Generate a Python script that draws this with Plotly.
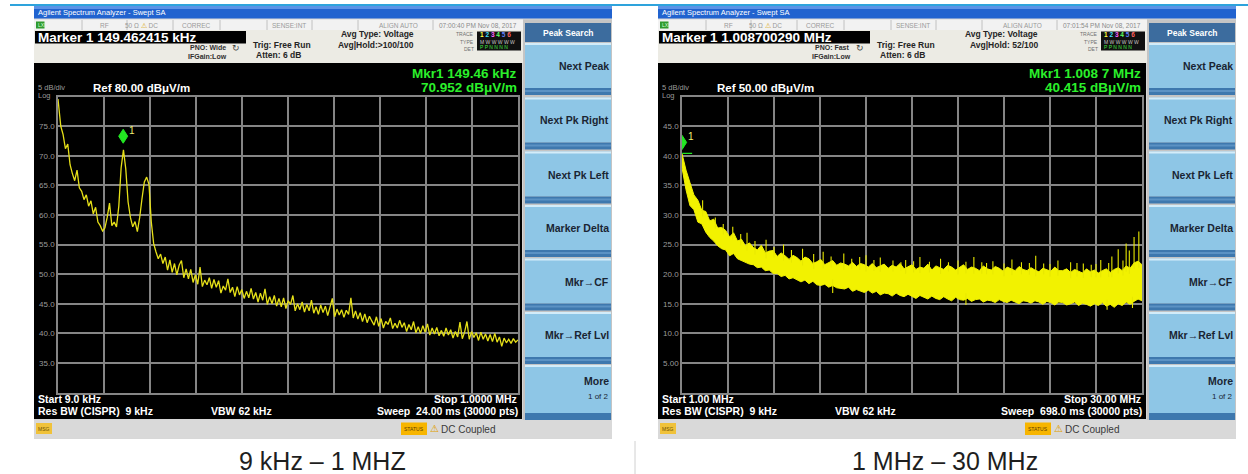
import plotly.graph_objects as go
import numpy as np

W, H = 1248, 474
UI = "Liberation Sans"

# ---------------- data: left sweep (9 kHz - 1 MHz) ----------------
lf_freq_khz = [9] + list(range(15, 1001, 5))
lf_level_dbuv = [
    79.6, 75.0, 73.6, 71.2, 72.0, 68.5, 67.0, 65.8, 67.6, 64.6,
    64.0, 62.6, 63.4, 61.5, 62.4, 60.2, 61.3, 58.8, 58.2, 57.3,
    57.8, 59.6, 62.0, 58.2, 58.8, 58.0, 61.5, 68.0, 71.0, 67.8,
    62.2, 59.6, 58.0, 58.9, 57.2, 59.6, 62.8, 65.6, 66.4, 65.2,
    58.8, 55.2, 53.8, 52.6, 53.4, 51.8,
    52.9, 50.7, 52.4, 50.3, 51.8, 49.9, 51.5, 52.3, 49.4, 50.9,
    49.2, 50.8, 48.6, 49.9, 48.3, 51.2, 47.9, 49.0, 48.2, 49.4,
    47.6, 49.1, 47.8, 48.9, 46.8, 48.0, 47.3, 49.2, 46.9, 47.8,
    46.2, 47.9, 46.5, 47.4, 45.9, 47.1, 46.0, 47.6, 45.8, 46.9,
    45.3, 46.8, 45.6, 47.5, 44.9, 46.2, 45.0, 46.4, 44.6, 45.9,
    44.5, 46.0, 44.2, 45.5, 44.9, 46.4, 43.8, 45.0, 44.0, 45.3,
    43.6, 44.9, 43.8, 45.6, 43.4, 44.5, 43.2, 44.8, 43.5, 44.6,
    43.0, 44.4, 45.9, 42.8, 44.1, 43.1, 44.0, 42.7, 43.9, 43.2,
    46.0, 42.6, 43.8, 42.4, 43.5, 42.0, 43.3, 41.8, 42.9, 42.1,
    41.4, 42.8, 41.2, 42.5, 40.9, 42.0, 41.5, 42.6, 40.8, 41.7,
    40.9, 42.2, 41.0, 41.8, 40.3, 41.5, 40.6, 42.0, 40.1, 41.1,
    40.0, 41.3, 40.2, 41.6, 39.7, 40.9, 39.9, 41.0, 39.6, 40.5,
    39.5, 40.9, 39.7, 40.6, 39.2, 40.3, 39.4, 41.9, 39.1, 40.2,
    42.0, 39.0, 40.3, 39.3, 40.1, 38.8, 40.2, 39.0, 39.9, 38.7,
    39.8, 38.6, 40.0, 38.5, 39.4, 37.8, 39.2, 38.4, 39.0, 38.3,
    39.1, 38.5, 38.9,
]
lf_marker = (149.462415, 70.952)
lf_start_khz, lf_stop_khz = 9.0, 1000.0
lf_ref_db = 80.0
lf_ytick_vals = [35, 40, 45, 50, 55, 60, 65, 70, 75]
lf_ytick_text = ["35.0", "40.0", "45.0", "50.0", "55.0", "60.0", "65.0", "70.0", "75.0"]

# ---------------- data: right sweep (1 MHz - 30 MHz) ----------------
rf_freq_mhz = [1 + 0.25 * i for i in range(117)]
rf_upper_dbuv = [
    40.4, 37.6, 35.5, 33.4, 32.5, 30.8, 30.6, 29.0,
    29.3, 27.8, 27.9, 27.4, 26.3, 27.0, 25.6, 25.9,
    24.8, 25.3, 24.5, 24.1, 24.9, 23.6, 23.9, 24.0,
    23.0, 23.6, 23.1, 22.5, 23.2, 22.8, 22.2, 22.9,
    22.6, 21.8, 22.1, 22.5, 21.6, 21.9, 22.3, 21.5,
    21.9, 21.7, 21.4, 22.0, 21.3, 21.8, 21.6, 21.2,
    21.8, 21.1, 21.4, 21.7, 21.0, 21.5, 21.2, 21.8,
    20.9, 21.3, 21.6, 20.8, 21.2, 21.0, 21.7, 20.7,
    21.4, 21.1, 20.8, 21.5, 21.2, 20.7, 21.1, 21.6,
    20.8, 21.2, 21.0, 20.6, 21.4, 20.9, 20.7, 21.3,
    21.0, 20.5, 21.2, 20.9, 20.6, 21.3, 20.8, 20.6,
    21.1, 20.7, 20.4, 21.0, 20.8, 20.5, 21.2, 20.6,
    20.6, 20.9, 20.3, 20.8, 20.5, 20.2, 20.9, 20.4,
    20.7, 20.2, 20.6, 20.9, 20.3, 20.8, 21.1, 20.6,
    21.4, 21.0, 21.9, 22.2, 21.6,
]
rf_lower_dbuv = [
    38.0, 34.3, 31.6, 30.9, 28.8, 28.5, 27.1, 26.2,
    25.6, 24.8, 24.3, 24.1, 23.1, 23.5, 22.6, 22.3,
    22.1, 21.7, 21.6, 21.1, 21.2, 20.6, 20.7, 20.1,
    20.1, 19.6, 19.8, 19.2, 19.4, 19.1, 18.7, 19.0,
    18.4, 18.8, 18.2, 18.1, 18.3, 17.8, 18.1, 17.7,
    17.6, 17.5, 17.8, 17.1, 17.4, 17.2, 16.9, 17.3,
    16.8, 17.1, 16.5, 16.8, 16.7, 16.3, 16.8, 16.4,
    16.2, 16.6, 16.3, 15.9, 16.4, 16.1, 15.8, 16.3,
    15.9, 15.7, 16.2, 15.8, 15.5, 16.1, 15.7, 15.6,
    15.9, 15.4, 15.7, 15.8, 15.3, 15.6, 15.5, 15.2,
    15.7, 15.4, 15.2, 15.6, 15.3, 15.0, 15.5, 15.4,
    15.1, 15.5, 15.3, 14.9, 15.4, 15.2, 14.8, 15.3,
    15.2, 14.8, 15.0, 15.3, 14.7, 15.1, 14.9, 14.6,
    15.0, 14.7, 15.2, 14.6, 14.9, 14.4, 15.0, 14.7,
    15.3, 14.9, 15.4, 15.8, 15.5,
]
rf_spike_mhz = [2.3, 3.1, 3.6, 4.2, 4.7, 5.1, 5.6, 6.3, 6.8, 7.4, 7.9, 8.6, 9.3, 9.9,
                10.4, 11.2, 11.7, 12.2, 12.6, 13.1, 13.5, 14.3, 14.8, 15.1, 15.6, 16.0,
                16.6, 17.3, 17.8, 18.4, 18.9, 19.4, 19.9, 20.2, 20.6, 21.3, 21.8, 22.4,
                22.9, 23.3, 23.8, 24.2, 24.7, 25.5, 25.9, 26.3, 26.8, 27.1, 27.4, 27.9,
                28.1, 28.5, 28.8, 29.0, 29.2, 29.5, 29.8]
rf_spike_dbuv = [32.5, 29.6, 28.5, 28.0, 26.8, 27.0, 25.6, 25.8, 24.6, 25.0, 24.1, 24.3,
                 23.4, 23.8, 23.0, 23.5, 22.6, 22.9, 23.2, 22.4, 22.8, 22.3, 22.0, 22.4,
                 22.2, 22.9, 22.1, 22.6, 22.0, 22.3, 22.1, 22.9, 22.0, 21.9, 22.2, 21.8,
                 22.5, 22.0, 21.9, 23.1, 21.8, 21.7, 22.3, 22.0, 21.9, 21.8, 21.6, 21.7,
                 22.4, 21.9, 23.0, 24.2, 22.3, 25.2, 24.0, 26.3, 27.2]
rf_dip_mhz = [10.5, 18.9, 27.8, 29.4]
rf_dip_dbuv = [16.8, 14.8, 14.0, 14.3]
rf_marker = (1.008700290, 40.415)
rf_start_mhz, rf_stop_mhz = 1.0, 30.0
rf_ref_db = 50.0
rf_ytick_vals = [5, 10, 15, 20, 25, 30, 35, 40, 45]
rf_ytick_text = ["5.00", "10.0", "15.0", "20.0", "25.0", "30.0", "35.0", "40.0", "45.0"]

softkeys = ["Next Peak", "Next Pk Right", "Next Pk Left", "Marker Delta",
            "Mkr\u2192CF", "Mkr\u2192Ref Lvl"]

panels = [
    dict(dx=0, marker="Marker 1 149.462415 kHz", pno="PNO: Wide", hold="Avg|Hold:>100/100",
         time="07:00:40 PM Nov 08, 2017", mkr1="Mkr1 149.46 kHz", mkr2="70.952 dB\u03bcV/m",
         ref="Ref 80.00 dB\u03bcV/m", start="Start 9.0 kHz", stop="Stop 1.0000 MHz",
         sweep="Sweep  24.00 ms (30000 pts)", caption="9 kHz \u2013 1 MHZ", cap_x=322),
    dict(dx=624, marker="Marker 1 1.008700290 MHz", pno="PNO: Fast", hold="Avg|Hold: 52/100",
         time="07:01:54 PM Nov 08, 2017", mkr1="Mkr1 1.008 7 MHz", mkr2="40.415 dB\u03bcV/m",
         ref="Ref 50.00 dB\u03bcV/m", start="Start 1.00 MHz", stop="Stop 30.00 MHz",
         sweep="Sweep  698.0 ms (30000 pts)", caption="1 MHz \u2013 30 MHz", cap_x=945),
]

# ---------------- helpers ----------------
shapes, annos = [], []


def R(x0, y0, x1, y1, fill, lc=None, lw=0, layer="below"):
    shapes.append(dict(type="rect", xref="paper", yref="paper",
                       x0=x0 / W, x1=x1 / W, y0=1 - y1 / H, y1=1 - y0 / H,
                       fillcolor=fill, line=dict(width=lw, color=lc or fill), layer=layer))


def L(x0, y0, x1, y1, color, lw=1, layer="below"):
    shapes.append(dict(type="line", xref="paper", yref="paper",
                       x0=x0 / W, x1=x1 / W, y0=1 - y0 / H, y1=1 - y1 / H,
                       line=dict(width=lw, color=color), layer=layer))


def T(x, y, s, size, color, anchor="left", bold=False, family=UI):
    annos.append(dict(xref="paper", yref="paper", x=x / W, y=1 - y / H,
                      text=("<b>%s</b>" % s) if bold else s, showarrow=False,
                      xanchor=anchor, yanchor="middle", borderpad=0,
                      font=dict(size=size, color=color, family=family)))


# slide decoration
L(10, 5, 1248, 5, "#2ea3dc", 2)
L(635, 441, 635, 474, "#d0d0d0", 1)

for p in panels:
    d = p["dx"]
    # frame
    R(34 + d, 6, 612 + d, 439, "#d6d6d6")
    # title bar
    R(34 + d, 6, 612 + d, 18.5, "#2163cf")
    R(34 + d, 6, 612 + d, 9, "#5b92e6")
    T(37 + d, 12.5, "Agilent Spectrum Analyzer - Swept SA", 7.5, "#ffffff")
    # status row
    R(34 + d, 19.5, 523 + d, 30, "#f2f2f2")
    for sx in [82, 127, 173, 220, 267, 312, 358, 433]:
        L(sx + d, 20, sx + d, 30, "#b5b5b5", 0.8)
    R(36 + d, 21.5, 44.5 + d, 28.5, "#2f9a2f")
    T(37 + d, 25, "LXI", 5, "#d8ffd8")
    T(104 + d, 25, "RF", 6.5, "#9a9a9a", "center")
    T(141 + d, 25, "50 \u03a9 <span style='color:#d8a000'>\u26a0</span> DC", 6.5, "#9a9a9a", "center")
    T(196 + d, 25, "CORREC", 6.5, "#9a9a9a", "center")
    T(289 + d, 25, "SENSE:INT", 6.5, "#9a9a9a", "center")
    T(398 + d, 25, "ALIGN AUTO", 6.5, "#9a9a9a", "center")
    T(478 + d, 25, p["time"], 6.5, "#8a8a8a", "center")
    # info area
    R(34 + d, 30, 523 + d, 63, "#ecebe4")
    R(35 + d, 31, 246 + d, 43.5, "#000000")
    T(37 + d, 37.5, p["marker"], 13.5, "#ffffff", bold=True)
    T(227 + d, 47.5, p["pno"], 7, "#303030", "right", bold=True)
    T(228 + d, 56.5, "IFGain:Low", 7, "#303030", "right", bold=True)
    T(236 + d, 48, "\u21bb", 9, "#404040", "center")
    T(252 + d, 44.5, "Trig: Free Run", 8.5, "#252525", bold=True)
    T(255 + d, 55.5, "Atten: 6 dB", 8.5, "#252525", bold=True)
    T(415 + d, 34.5, "Avg Type: Voltage", 8.5, "#252525", "right", bold=True)
    T(415 + d, 44.5, p["hold"], 8.5, "#252525", "right", bold=True)
    T(475 + d, 34, "TRACE", 5, "#707070", "right")
    T(475 + d, 42, "TYPE", 5, "#707070", "right")
    T(475 + d, 48.5, "DET", 5, "#707070", "right")
    R(477 + d, 31.5, 521 + d, 50.5, "#101010")
    T(479 + d, 35, "<span style='color:#ffff40'>1</span> <span style='color:#40e0ff'>2</span> "
      "<span style='color:#ff60ff'>3</span> <span style='color:#60ff60'>4</span> "
      "<span style='color:#6080ff'>5</span> <span style='color:#ff6060'>6</span>", 6.5, "#ffffff", bold=True)
    T(479 + d, 42, "M W W W W W", 5, "#c8c8c8")
    T(479 + d, 47.5, "P P N N N N", 5, "#40e040")
    # display
    R(34 + d, 63, 522 + d, 419, "#000000")
    T(37 + d, 88, "5 dB/div", 7.5, "#9a9a9a")
    T(37 + d, 95, "Log", 7.5, "#9a9a9a")
    T(92 + d, 88, p["ref"], 11.5, "#ffffff", bold=True)
    T(518 + d, 74, p["mkr1"], 13.5, "#2bf02b", "right", bold=True)
    T(518 + d, 87.5, p["mkr2"], 13.5, "#2bf02b", "right", bold=True)
    T(37 + d, 398.5, p["start"], 10.5, "#ffffff", bold=True)
    T(37 + d, 411, "Res BW (CISPR)  9 kHz", 10.5, "#ffffff", bold=True)
    T(210 + d, 411, "VBW 62 kHz", 10.5, "#ffffff", bold=True)
    T(518 + d, 398.5, p["stop"], 10.5, "#ffffff", "right", bold=True)
    T(519 + d, 411, p["sweep"], 10.5, "#ffffff", "right", bold=True)
    # softkeys
    R(523 + d, 19.5, 612 + d, 421, "#c4c4c4")
    R(525 + d, 23, 611 + d, 42, "#3c6c9e")
    T(568 + d, 32.5, "Peak Search", 8.5, "#ffffff", "center", bold=True)
    tops = [43, 97.5, 151.5, 205, 258.5, 312]
    for t, lab in zip(tops, softkeys):
        R(525 + d, t, 611 + d, t + 45, "#8ec6e6")
        R(525 + d, t, 611 + d, t + 2, "#d3ecf9")
        R(525 + d, t + 45, 611 + d, t + 52, "#3e78ae")
        R(525 + d, t + 47, 611 + d, t + 49, "#5b92c4")
        T(610 + d, t + 23, lab, 10.5, "#1a2533", "right", bold=True)
    R(525 + d, 365, 611 + d, 413, "#8ec6e6")
    R(525 + d, 365, 611 + d, 367, "#d3ecf9")
    R(525 + d, 413, 611 + d, 420, "#3e78ae")
    T(610 + d, 381, "More", 10.5, "#1a2533", "right", bold=True)
    T(610 + d, 396, "1 of 2", 8, "#1a2533", "right")
    # bottom status bar
    R(34 + d, 420, 612 + d, 438.5, "#d9d9d9")
    R(36 + d, 423, 52 + d, 434, "#f0c23a")
    T(44 + d, 428.5, "MSG", 5, "#6b4f00", "center")
    R(401 + d, 422.5, 427 + d, 435, "#f7b500")
    T(414 + d, 428.5, "STATUS", 5, "#5a3c00", "center")
    T(434 + d, 428.5, "\u26a0", 10, "#e0a000", "center")
    T(440 + d, 429, "DC Coupled", 10, "#3a3a3a")
    # caption
    T(p["cap_x"], 461, p["caption"], 25, "#1e1e1e", "center")

# ---------------- traces ----------------
fig = go.Figure()
fig.add_trace(go.Scatter(x=lf_freq_khz, y=lf_level_dbuv, mode="lines",
                         line=dict(color="#e6e018", width=1.3), xaxis="x", yaxis="y",
                         showlegend=False, hoverinfo="skip"))

fig.add_trace(go.Scatter(x=rf_freq_mhz, y=rf_lower_dbuv, mode="lines",
                         line=dict(color="#f2f200", width=1), xaxis="x2", yaxis="y2",
                         showlegend=False, hoverinfo="skip"))
fig.add_trace(go.Scatter(x=rf_freq_mhz, y=rf_upper_dbuv, mode="lines", fill="tonexty",
                         fillcolor="#f2f200", line=dict(color="#f2f200", width=1),
                         xaxis="x2", yaxis="y2", showlegend=False, hoverinfo="skip"))

base_up = np.interp(rf_spike_mhz, rf_freq_mhz, rf_upper_dbuv) - 1.0
sx, sy = [], []
for f, b, v in zip(rf_spike_mhz, base_up, rf_spike_dbuv):
    sx += [f, f, None]
    sy += [b, v, None]
base_lo = np.interp(rf_dip_mhz, rf_freq_mhz, rf_lower_dbuv) + 1.0
for f, b, v in zip(rf_dip_mhz, base_lo, rf_dip_dbuv):
    sx += [f, f, None]
    sy += [b, v, None]
fig.add_trace(go.Scatter(x=sx, y=sy, mode="lines", line=dict(color="#e8e800", width=1.1),
                         xaxis="x2", yaxis="y2", showlegend=False, hoverinfo="skip"))

# marker symbols (pixel-sized shapes anchored at the marker data point)
for (mf, ma), xr, yr, up in [(lf_marker, "x", "y", 14), (rf_marker, "x2", "y2", 11)]:
    shapes.append(dict(type="path", xref=xr, yref=yr, xsizemode="pixel", ysizemode="pixel",
                       xanchor=mf, yanchor=ma,
                       path="M0,%d L4.5,%d L0,%d L-4.5,%d Z" % (up - 7, up, up + 7, up),
                       fillcolor="#22e622", line=dict(color="#22e622", width=1), layer="above"))
    annos.append(dict(xref=xr, yref=yr, x=mf, y=ma, text="1", showarrow=False,
                      xshift=9, yshift=up + 6, font=dict(size=10, color="#f0f070", family=UI)))
shapes.append(dict(type="path", xref="x2", yref="y2", xsizemode="pixel", ysizemode="pixel",
                   xanchor=rf_marker[0], yanchor=rf_marker[1], path="M0,0 L10,0",
                   line=dict(color="#22e622", width=1.2), layer="above"))

grid = dict(showgrid=True, gridcolor="#858585", gridwidth=1.5, zeroline=False,
            showline=True, mirror=True, linecolor="#858585", linewidth=1.5, ticks="")

lf_xgrid = [lf_start_khz + k * (lf_stop_khz - lf_start_khz) / 10 for k in range(1, 10)]
rf_xgrid = [rf_start_mhz + k * (rf_stop_mhz - rf_start_mhz) / 10 for k in range(1, 10)]

fig.update_layout(
    width=W, height=H, margin=dict(l=0, r=0, t=0, b=0),
    paper_bgcolor="#ffffff", plot_bgcolor="rgba(0,0,0,0)",
    font=dict(family=UI),
    xaxis=dict(domain=[58 / W, 518 / W], range=[lf_start_khz, lf_stop_khz],
               tickvals=lf_xgrid, showticklabels=False, anchor="y", **grid),
    yaxis=dict(domain=[1 - 392.5 / H, 1 - 96.7 / H], range=[lf_ref_db - 50, lf_ref_db],
               tickvals=lf_ytick_vals, ticktext=lf_ytick_text, anchor="x",
               tickfont=dict(size=8, color="#9a9a9a", family=UI), **grid),
    xaxis2=dict(domain=[682 / W, 1142 / W], range=[rf_start_mhz, rf_stop_mhz],
                tickvals=rf_xgrid, showticklabels=False, anchor="y2", **grid),
    yaxis2=dict(domain=[1 - 392.5 / H, 1 - 96.7 / H], range=[rf_ref_db - 50, rf_ref_db],
                tickvals=rf_ytick_vals, ticktext=rf_ytick_text, anchor="x2",
                tickfont=dict(size=8, color="#9a9a9a", family=UI), **grid),
    shapes=shapes, annotations=annos,
)

fig.write_html("out.html", config={"displayModeBar": False},
               post_script="document.body.style.margin='0';document.body.style.overflow='hidden';")
